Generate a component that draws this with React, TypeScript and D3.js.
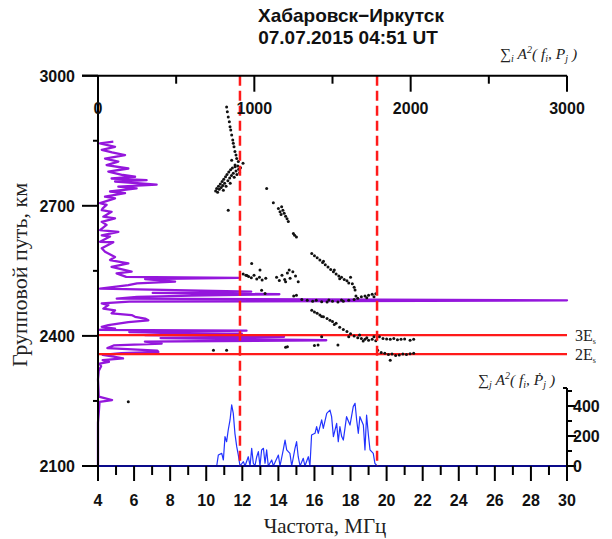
import React from "react";
import * as d3 from "d3";

// ---------- DATA ----------
const freqTicks = [4, 6, 8, 10, 12, 14, 16, 18, 20, 22, 24, 26, 28, 30];
const pathTicks = [2100, 2400, 2700, 3000];
const pathMinorTicks = [2250, 2550, 2850];
const topTicks = [0, 1000, 2000, 3000];
const topMinorTicks = [500, 1500, 2500];
const rightTicks = [0, 200, 400];
const rightMinorTicks = [100, 300, 500];

const dashedFreqs = [11.87, 19.47];
const modeLevels = [
  { km: 2402, label: "3E" },
  { km: 2358, label: "2E" },
];

// purple profile: [group path km, Σi A^2]
const profileKm = [
  2848, 2844, 2836, 2829, 2823, 2817, 2809, 2802, 2794, 2786, 2779, 2771, 2767, 2763, 2759, 2756, 2749, 2744, 2740, 2733,
  2729, 2721, 2717, 2706, 2702, 2694, 2690, 2686, 2675, 2671, 2663, 2656, 2644, 2640, 2632, 2629, 2617, 2616, 2602, 2594,
  2582, 2575, 2567, 2559, 2548, 2544, 2536, 2534, 2531, 2525, 2521, 2517, 2509, 2502, 2499, 2496, 2493, 2490, 2486, 2482,
  2479, 2475, 2471, 2463, 2459, 2452, 2448, 2444, 2440, 2436, 2432, 2425, 2421, 2417, 2414, 2412, 2409, 2405, 2402, 2398,
  2395, 2390, 2387, 2382, 2378, 2372, 2366, 2363, 2360, 2356, 2352, 2348, 2344, 2340, 2336, 2330, 2320, 2300, 2260, 2252,
  2248, 2200, 2100,
];
const profileVal = [
  98, 13, 109, 24, 90, 173, 45, 130, 55, 194, 66, 160, 237, 87, 311, 109, 375, 130, 247, 77,
  173, 45, 109, 13, 55, 30, 24, 87, 34, 109, 24, 55, 13, 130, 24, 77, 13, 98, 24, 45,
  109, 77, 194, 87, 215, 119, 180, 898, 301, 493, 250, 194, 13, 980, 350, 1160, 600, 250, 120, 3000,
  200, 24, 66, 34, 109, 87, 215, 237, 301, 322, 194, 66, 24, 109, 5, 950, 200, 920, 300, 1190,
  400, 1460, 300, 407, 100, 60, 380, 386, 150, 30, 100, 160, 30, 70, 10, 20, 5, 0, 5, 90,
  10, 0, 0,
];

// blue sum: [frequency MHz, Σj A^2]
const sumFreq = [
  10.5, 10.58, 10.67, 10.86, 10.95, 11.04, 11.13, 11.22, 11.32, 11.41, 11.5, 11.59, 11.69, 11.78, 11.87, 12.06, 12.15, 12.33,
  12.43, 12.52, 12.61, 12.7, 12.8, 12.89, 12.98, 13.07, 13.17, 13.26, 13.35, 13.44, 13.63, 13.72, 14.0, 14.09, 14.27, 14.37,
  14.46, 14.64, 14.74, 14.92, 15.01, 15.1, 15.2, 15.38, 15.47, 15.66, 15.75, 15.84, 16.03, 16.12, 16.21, 16.4, 16.49, 16.68,
  16.86, 16.95, 17.05, 17.23, 17.32, 17.41, 17.51, 17.6, 17.78, 17.97, 18.15, 18.25, 18.34, 18.43, 18.52, 18.71, 18.8, 18.89,
  18.99, 19.08, 19.26, 19.35, 19.48, 19.55,
];
const sumVal = [
  0, 0, 73, 84, 40, 196, 162, 240, 307, 407, 351, 218, 129, 73, 0, 29, 0, 62, 0, 118, 18, 0, 62, 96, 0, 107, 118, 18, 107, 0,
  40, 0, 73, 0, 107, 173, 107, 84, 0, 118, 162, 62, 0, 51, 0, 62, 0, 207, 218, 262, 218, 307, 251, 351, 373, 329, 196, 284,
  162, 262, 196, 173, 329, 273, 396, 418, 307, 218, 329, 273, 107, 340, 207, 107, 84, 18, 0, 0,
];

// observed ionogram points: [frequency MHz, group path km]
const obsFreq = [
  11.13, 11.17, 11.22, 11.28, 11.32, 11.36, 11.41, 11.47, 11.5, 11.54, 11.59, 11.65, 11.69, 11.78, 11.41, 11.6,
  10.52, 10.58, 10.63, 10.68, 10.72, 10.78, 10.83, 10.88, 10.92, 10.97, 11.02, 11.07, 11.1, 11.15, 11.2, 11.25, 11.3, 11.35,
  11.4, 11.45, 11.5, 11.55, 11.6, 11.65, 11.7, 11.75, 11.8, 11.85, 11.9, 10.95, 11.33, 11.22, 12.04,
  13.35, 13.72, 14.0, 14.09, 14.18, 14.25, 14.32, 14.4, 14.48, 14.55, 14.15, 14.83, 15.0, 14.9,
  15.85, 16.0, 16.15, 16.3, 16.45, 16.6, 16.75, 16.9, 17.05, 17.2, 17.35, 17.5, 17.65, 17.8, 17.9, 18.0, 18.1, 18.2, 18.25,
  16.5, 17.1, 17.4,
  12.05, 12.2, 12.35, 12.5, 12.65, 12.8, 12.95, 13.1, 13.3, 12.52, 12.98, 12.26,
  13.9, 14.05, 14.2, 14.35, 14.5, 14.65, 14.8, 14.95, 15.1, 14.6, 14.4, 13.07, 13.26,
  14.85, 15.0, 15.3, 15.6, 15.9, 16.1, 16.4, 16.7, 17.0, 17.3, 17.6, 17.9, 18.2, 18.4, 18.6, 18.8, 19.0, 19.2, 19.4, 18.9,
  19.3, 18.3, 17.5, 16.8,
  15.85, 16.0, 16.15, 16.3, 16.5, 16.7, 16.86, 17.0, 17.2, 17.4, 17.6, 17.8, 18.0, 18.2, 18.4, 18.6, 18.8, 19.0, 19.2, 19.4,
  18.5, 18.9, 17.9, 18.7, 19.3, 16.4, 17.1,
  19.6, 19.8, 20.0, 20.2, 20.4, 20.6, 20.8, 21.0, 21.3, 21.5,
  19.5, 19.7, 19.9, 20.1, 20.3, 20.5, 20.7, 20.9, 21.1, 21.3, 21.5, 20.2,
  14.5, 14.4, 16.2, 16.0, 17.3, 16.4, 10.4, 11.13, 5.68,
];
const obsKm = [
  2928, 2917, 2905, 2894, 2882, 2875, 2863, 2852, 2844, 2836, 2825, 2817, 2809, 2802, 2805, 2794,
  2734, 2740, 2731, 2745, 2738, 2750, 2742, 2756, 2747, 2761, 2752, 2767, 2745, 2772, 2758, 2778, 2764, 2783,
  2770, 2787, 2775, 2766, 2790, 2780, 2772, 2792, 2784, 2776, 2788, 2736, 2752, 2690, 2798,
  2740, 2707, 2694, 2686, 2698, 2690, 2683, 2676, 2670, 2664, 2680, 2636, 2628, 2632,
  2590, 2585, 2580, 2575, 2569, 2564, 2559, 2553, 2548, 2543, 2538, 2535, 2530, 2527, 2522, 2535, 2520, 2512, 2506,
  2572, 2552, 2532,
  2543, 2540, 2537, 2534, 2540, 2531, 2535, 2529, 2533, 2567, 2552, 2539,
  2535, 2528, 2540, 2530, 2545, 2533, 2548, 2538, 2525, 2552, 2525, 2505, 2498,
  2492, 2494, 2484, 2482, 2480, 2482, 2479, 2478, 2480, 2478, 2480, 2482, 2484, 2487, 2490, 2492, 2494, 2496, 2497, 2488,
  2490, 2492, 2483, 2483,
  2459, 2455, 2452, 2448, 2444, 2440, 2436, 2433, 2429, 2420, 2415, 2410, 2405, 2400, 2396, 2394, 2392, 2390, 2392, 2389,
  2402, 2396, 2398, 2388, 2398, 2445, 2426,
  2398, 2394, 2393, 2392, 2394, 2391, 2392, 2393, 2390, 2392,
  2367, 2362, 2360, 2357, 2358, 2355, 2356, 2358, 2357, 2359, 2360, 2344,
  2375, 2374, 2379, 2378, 2379, 2398, 2367, 2367, 2248,
];

// ---------- CHART ----------
const W = 612;
const H = 539;
const L = 98;
const R = 567;
const T = 75.7;
const B = 466;

const x = d3.scaleLinear().domain([4, 30]).range([L, R]);
const y = d3.scaleLinear().domain([2100, 3000]).range([B, T]);
const xTop = d3.scaleLinear().domain([0, 3000]).range([L, R]);
const yR = d3.scaleLinear().domain([0, 520]).range([B, 388]);

const BOLD = "'Liberation Sans', Arial, sans-serif";
const SERIF = "'Liberation Serif', 'Times New Roman', serif";

export default function App() {
  const profileLine = d3
    .line<number>()
    .x((_, i) => xTop(profileVal[i]))
    .y((k) => y(k));
  const sumLine = d3
    .line<number>()
    .x((f) => x(f))
    .y((_, i) => yR(sumVal[i]));

  const minorFreq = d3.range(4, 31).filter((f) => f % 2 === 1);

  return (
    <svg width={W} height={H} style={{ position: "absolute", left: 0, top: 0, background: "#fff" }}>
      <rect width={W} height={H} fill="#fff" />
      {/* title */}
      <text x={351} y={22} textAnchor="middle" fontFamily={BOLD} fontWeight="bold" fontSize={19} fill="#111">
        Хабаровск−Иркутск
      </text>
      <text x={348} y={44} textAnchor="middle" fontFamily={BOLD} fontWeight="bold" fontSize={19} fill="#111">
        07.07.2015 04:51 UT
      </text>

      {/* top-right label */}
      <text x={500} y={59} fontFamily={SERIF} fontStyle="italic" fontSize={15.5} fill="#222">
        <tspan fontStyle="normal">∑</tspan>
        <tspan fontSize={10} dy={3}>i</tspan>
        <tspan dy={-3}> A</tspan>
        <tspan fontSize={10} dy={-6}>2</tspan>
        <tspan dy={6}>( f</tspan>
        <tspan fontSize={10} dy={3}>i</tspan>
        <tspan dy={-3}>, P</tspan>
        <tspan fontSize={10} dy={3}>j</tspan>
        <tspan dy={-3}> )</tspan>
      </text>

      {/* purple profile */}
      <path d={profileLine(profileKm) || ""} fill="none" stroke="#9416dc" strokeWidth={2.3} strokeLinejoin="round" />

      {/* mode lines */}
      {modeLevels.map((m) => (
        <g key={m.label}>
          <line x1={L} x2={R} y1={y(m.km)} y2={y(m.km)} stroke="#ff1a1a" strokeWidth={2.2} />
          <text x={575} y={y(m.km) + 6} fontFamily={SERIF} fontSize={16} fill="#222">
            {m.label}
            <tspan fontSize={8} dy={3}>s</tspan>
          </text>
        </g>
      ))}

      {/* observed points */}
      {obsFreq.map((f, i) => (
        <circle key={i} cx={x(f)} cy={y(obsKm[i])} r={1.5} fill="#111" />
      ))}

      {/* blue sum curve */}
      <path d={sumLine(sumFreq) || ""} fill="none" stroke="#2233ff" strokeWidth={1.2} strokeLinejoin="round" />
      <line x1={L} x2={R} y1={yR(0)} y2={yR(0)} stroke="#0a0a8a" strokeWidth={2} />

      {/* dashed verticals */}
      {dashedFreqs.map((f) => (
        <line key={f} x1={x(f)} x2={x(f)} y1={T} y2={B} stroke="#ff1a1a" strokeWidth={2.5} strokeDasharray="10 5" />
      ))}

      {/* left axis */}
      <line x1={L} x2={L} y1={T} y2={B} stroke="#000" strokeWidth={2} />
      {pathTicks.map((k) => (
        <g key={k}>
          <line x1={L - 16} x2={L} y1={y(k)} y2={y(k)} stroke="#000" strokeWidth={2} />
          <text x={75} y={y(k) + 6} textAnchor="end" fontFamily={BOLD} fontWeight="bold" fontSize={16} fill="#111">
            {k}
          </text>
        </g>
      ))}
      {pathMinorTicks.map((k) => (
        <line key={k} x1={L - 5} x2={L} y1={y(k)} y2={y(k)} stroke="#000" strokeWidth={2} />
      ))}
      <text
        transform={`translate(27,275) rotate(-90)`}
        textAnchor="middle"
        fontFamily={SERIF}
        fontSize={22}
        fill="#222"
      >
        Групповой путь, км
      </text>

      {/* top axis */}
      <line x1={L - 16} x2={R} y1={T} y2={T} stroke="#000" strokeWidth={2} />
      {topTicks.map((v) => (
        <g key={v}>
          <line x1={xTop(v)} x2={xTop(v)} y1={T} y2={T + 16} stroke="#000" strokeWidth={2} />
          <text x={xTop(v)} y={114} textAnchor="middle" fontFamily={BOLD} fontWeight="bold" fontSize={16} fill="#111">
            {v}
          </text>
        </g>
      ))}
      {topMinorTicks.map((v) => (
        <line key={v} x1={xTop(v)} x2={xTop(v)} y1={T} y2={T + 8} stroke="#000" strokeWidth={2} />
      ))}

      {/* bottom axis ticks */}
      {freqTicks.map((f) => (
        <g key={f}>
          <line x1={x(f)} x2={x(f)} y1={B} y2={B + 15} stroke="#000" strokeWidth={2} />
          <text x={x(f)} y={506} textAnchor="middle" fontFamily={BOLD} fontWeight="bold" fontSize={16} fill="#111">
            {f}
          </text>
        </g>
      ))}
      {minorFreq.map((f) => (
        <line key={f} x1={x(f)} x2={x(f)} y1={B} y2={B + 9} stroke="#000" strokeWidth={2} />
      ))}
      <line x1={L - 16} x2={L} y1={B} y2={B} stroke="#000" strokeWidth={2} />
      <text x={325} y={533} textAnchor="middle" fontFamily={SERIF} fontSize={21} fill="#222">
        Частота, МГц
      </text>

      {/* right axis */}
      <line x1={R} x2={R} y1={yR(520)} y2={B + 15} stroke="#000" strokeWidth={2} />
      {rightTicks.map((v) => (
        <g key={v}>
          <line x1={R} x2={R + 9} y1={yR(v)} y2={yR(v)} stroke="#000" strokeWidth={2} />
          <text x={573} y={yR(v) + 6} fontFamily={BOLD} fontWeight="bold" fontSize={16} fill="#111">
            {v}
          </text>
        </g>
      ))}
      {rightMinorTicks.map((v) => (
        <line key={v} x1={R} x2={R + 5} y1={yR(v)} y2={yR(v)} stroke="#000" strokeWidth={2} />
      ))}
      <line x1={R - 4} x2={R} y1={yR(520)} y2={yR(520)} stroke="#000" strokeWidth={2} />

      {/* bottom-right label */}
      <text x={478} y={385} fontFamily={SERIF} fontStyle="italic" fontSize={15.5} fill="#222">
        <tspan fontStyle="normal">∑</tspan>
        <tspan fontSize={10} dy={3}>j</tspan>
        <tspan dy={-3}> A</tspan>
        <tspan fontSize={10} dy={-6}>2</tspan>
        <tspan dy={6}>( f</tspan>
        <tspan fontSize={10} dy={3}>i</tspan>
        <tspan dy={-3}>, Ṗ</tspan>
        <tspan fontSize={10} dy={3}>j</tspan>
        <tspan dy={-3}> )</tspan>
      </text>
    </svg>
  );
}
